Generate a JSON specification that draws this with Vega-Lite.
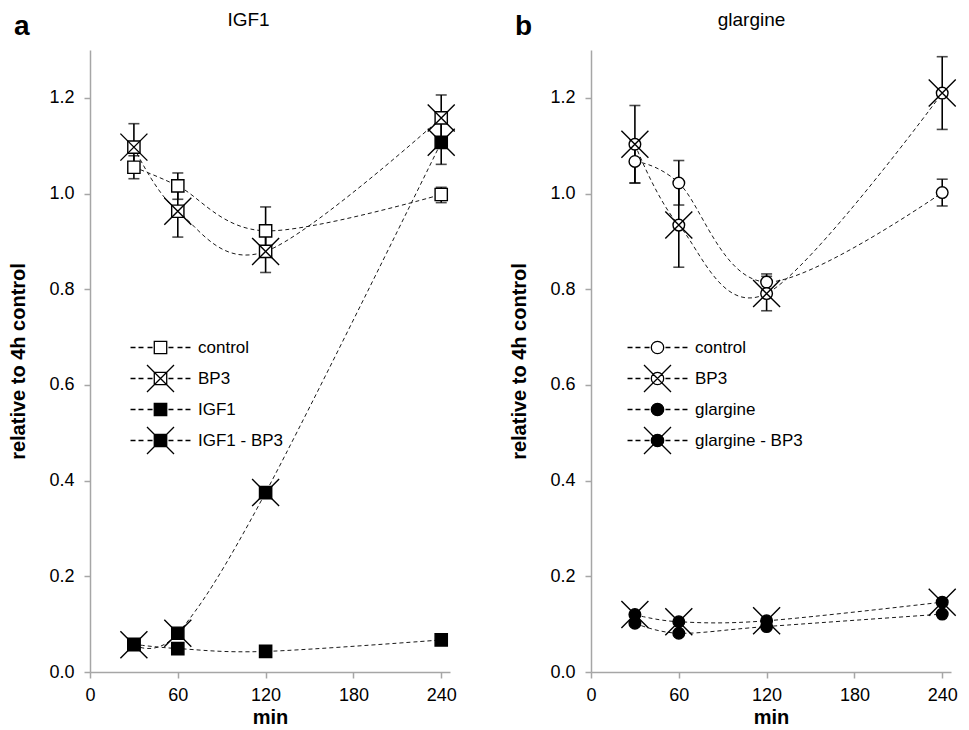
{
  "$schema": "https://vega.github.io/schema/vega-lite/v6.json",
  "padding": {"left": 8, "top": 10, "right": 0, "bottom": 0},
  "datasets": {
    "a": [
      {"series": "control", "t": 30, "v": 1.055, "lo": 1.031, "hi": 1.079},
      {"series": "control", "t": 60, "v": 1.016, "lo": 0.988, "hi": 1.043},
      {"series": "control", "t": 120, "v": 0.922, "lo": 0.872, "hi": 0.972},
      {"series": "control", "t": 240, "v": 0.998, "lo": 0.981, "hi": 1.013},
      {"series": "BP3", "t": 30, "v": 1.097, "lo": 1.048, "hi": 1.146},
      {"series": "BP3", "t": 60, "v": 0.963, "lo": 0.909, "hi": 1.017},
      {"series": "BP3", "t": 120, "v": 0.879, "lo": 0.835, "hi": 0.923},
      {"series": "BP3", "t": 240, "v": 1.158, "lo": 1.11, "hi": 1.206},
      {"series": "IGF1", "t": 30, "v": 0.058, "lo": null, "hi": null},
      {"series": "IGF1", "t": 60, "v": 0.049, "lo": null, "hi": null},
      {"series": "IGF1", "t": 120, "v": 0.043, "lo": null, "hi": null},
      {"series": "IGF1", "t": 240, "v": 0.067, "lo": null, "hi": null},
      {"series": "IGF1 - BP3", "t": 30, "v": 0.057, "lo": null, "hi": null},
      {"series": "IGF1 - BP3", "t": 60, "v": 0.081, "lo": null, "hi": null},
      {"series": "IGF1 - BP3", "t": 120, "v": 0.375, "lo": null, "hi": null},
      {"series": "IGF1 - BP3", "t": 240, "v": 1.107, "lo": 1.061, "hi": 1.153}
    ],
    "b": [
      {"series": "control", "t": 30, "v": 1.067, "lo": 1.022, "hi": 1.112},
      {"series": "control", "t": 60, "v": 1.022, "lo": 0.976, "hi": 1.069},
      {"series": "control", "t": 120, "v": 0.815, "lo": 0.798, "hi": 0.832},
      {"series": "control", "t": 240, "v": 1.002, "lo": 0.974, "hi": 1.03},
      {"series": "BP3", "t": 30, "v": 1.103, "lo": 1.022, "hi": 1.184},
      {"series": "BP3", "t": 60, "v": 0.934, "lo": 0.846, "hi": 1.022},
      {"series": "BP3", "t": 120, "v": 0.791, "lo": 0.755, "hi": 0.827},
      {"series": "BP3", "t": 240, "v": 1.21, "lo": 1.134, "hi": 1.286},
      {"series": "glargine", "t": 30, "v": 0.102, "lo": null, "hi": null},
      {"series": "glargine", "t": 60, "v": 0.081, "lo": null, "hi": null},
      {"series": "glargine", "t": 120, "v": 0.095, "lo": null, "hi": null},
      {"series": "glargine", "t": 240, "v": 0.121, "lo": null, "hi": null},
      {"series": "glargine - BP3", "t": 30, "v": 0.12, "lo": null, "hi": null},
      {"series": "glargine - BP3", "t": 60, "v": 0.105, "lo": null, "hi": null},
      {"series": "glargine - BP3", "t": 120, "v": 0.107, "lo": null, "hi": null},
      {"series": "glargine - BP3", "t": 240, "v": 0.146, "lo": null, "hi": null}
    ]
  },
  "spacing": 51,
  "hconcat": [
    {
      "width": 360,
      "height": 622,
      "data": {"name": "a"},
      "title": {"text": "a", "anchor": "start", "frame": "group", "dx": -76, "fontSize": 28, "fontWeight": "bold", "font": "Liberation Sans", "color": "#000", "baseline": "alphabetic", "offset": -53},
      "layer": [
        {
          "layer": [
            {
              "mark": {"type": "line", "interpolate": "cardinal", "strokeDash": [4, 3], "strokeWidth": 1, "color": "#1a1a1a"},
              "encoding": {
                "x": {"field": "t", "type": "quantitative", "scale": {"domain": [0, 246], "nice": false, "zero": false}, "axis": {"values": [0, 60, 120, 180, 240], "title": "min"}},
                "y": {"field": "v", "type": "quantitative", "scale": {"domain": [0, 1.3], "nice": false}, "axis": {"values": [0, 0.2, 0.4, 0.6, 0.8, 1, 1.2], "format": ".1f", "title": "relative to 4h control"}},
                "detail": {"field": "series"}
              }
            },
            {
              "transform": [{"filter": "isValid(datum.lo)"}],
              "mark": {"type": "errorbar", "ticks": {"size": 11, "thickness": 1.6, "color": "#000"}, "rule": {"strokeWidth": 1.6, "color": "#000"}},
              "encoding": {
                "x": {"field": "t", "type": "quantitative", "title": "min"},
                "y": {"field": "lo", "type": "quantitative", "title": "relative to 4h control"},
                "y2": {"field": "hi"}
              }
            },
            {
              "transform": [{"filter": {"field": "series", "oneOf": ["control", "BP3"]}}],
              "mark": {"type": "point", "shape": "square", "size": 150, "filled": true, "fill": "#ffffff", "stroke": "#000", "strokeWidth": 1.4, "opacity": 1},
              "encoding": {
                "x": {"field": "t", "type": "quantitative", "title": "min"},
                "y": {"field": "v", "type": "quantitative", "title": "relative to 4h control"}
              }
            },
            {
              "transform": [{"filter": {"field": "series", "oneOf": ["IGF1", "IGF1 - BP3"]}}],
              "mark": {"type": "point", "shape": "square", "size": 150, "filled": true, "fill": "#000000", "stroke": "#000", "strokeWidth": 1.4, "opacity": 1},
              "encoding": {
                "x": {"field": "t", "type": "quantitative", "title": "min"},
                "y": {"field": "v", "type": "quantitative", "title": "relative to 4h control"}
              }
            },
            {
              "transform": [{"filter": "false"}],
              "mark": {"type": "point", "filled": true, "strokeWidth": 1.3, "opacity": 1},
              "encoding": {
                "x": {"field": "t", "type": "quantitative", "title": "min"},
                "y": {"field": "v", "type": "quantitative", "title": "relative to 4h control"},
                "fill": {
                  "field": "series", "type": "nominal",
                  "scale": {"domain": ["control", "BP3", "IGF1", "IGF1 - BP3"], "range": ["#ffffff", "#ffffff", "#000000", "#000000"]},
                  "legend": {
                    "orient": "none", "legendX": 56, "legendY": 283, "title": null,
                    "symbolSize": 729, "symbolStrokeWidth": 1.3, "symbolOpacity": 1,
                    "labelFont": "Liberation Sans", "labelFontSize": 17, "labelColor": "#000", "labelOffset": 23,
                    "rowPadding": -6, "padding": 0
                  }
                },
                "stroke": {
                  "field": "series", "type": "nominal",
                  "scale": {"domain": ["control", "BP3", "IGF1", "IGF1 - BP3"], "range": ["#000000", "#000000", "#000000", "#000000"]},
                  "legend": {
                    "orient": "none", "legendX": 56, "legendY": 283, "title": null,
                    "symbolSize": 729, "symbolStrokeWidth": 1.3, "symbolOpacity": 1,
                    "labelFont": "Liberation Sans", "labelFontSize": 17, "labelColor": "#000", "labelOffset": 23,
                    "rowPadding": -6, "padding": 0
                  }
                },
                "shape": {
                  "field": "series", "type": "nominal",
                  "scale": {"domain": ["control", "BP3", "IGF1", "IGF1 - BP3"], "range": [
                    "M0,-1L0,-1M0,1L0,1M-2.22,0H-1.85M-1.63,0H-1.26M-0.96,0H-0.59M0.59,0H0.96M1.26,0H1.63M1.85,0H2.22M-0.46,-0.46H0.46V0.46H-0.46Z",
                    "M0,-1L0,-1M0,1L0,1M-2.22,0H-1.85M-1.63,0H-1.26M-0.96,0H-0.59M0.59,0H0.96M1.26,0H1.63M1.85,0H2.22M-0.46,-0.46H0.46V0.46H-0.46ZM-1,-1L1,1M-1,1L1,-1",
                    "M0,-1L0,-1M0,1L0,1M-2.22,0H-1.85M-1.63,0H-1.26M-0.96,0H-0.59M0.59,0H0.96M1.26,0H1.63M1.85,0H2.22M-0.46,-0.46H0.46V0.46H-0.46Z",
                    "M0,-1L0,-1M0,1L0,1M-2.22,0H-1.85M-1.63,0H-1.26M-0.96,0H-0.59M0.59,0H0.96M1.26,0H1.63M1.85,0H2.22M-0.46,-0.46H0.46V0.46H-0.46ZM-1,-1L1,1M-1,1L1,-1"
                  ]},
                  "legend": {
                    "orient": "none", "legendX": 56, "legendY": 283, "title": null,
                    "symbolSize": 729, "symbolStrokeWidth": 1.3, "symbolOpacity": 1,
                    "labelFont": "Liberation Sans", "labelFontSize": 17, "labelColor": "#000", "labelOffset": 23,
                    "rowPadding": -6, "padding": 0
                  }
                }
              }
            }
          ]
        },
        {
          "transform": [{"filter": "indexof(datum.series, 'BP3') >= 0"}],
          "mark": {"type": "point", "shape": "M-1,-1L1,1M-1,1L1,-1", "size": 729, "filled": false, "stroke": "#000", "strokeWidth": 1.4, "opacity": 1},
          "encoding": {
            "x": {"field": "t", "type": "quantitative", "axis": {"orient": "top", "domain": false, "ticks": false, "labels": false, "grid": false, "title": "IGF1", "titleFontSize": 19, "titleFontWeight": "normal", "titleX": 158, "titleY": -25, "titleAlign": "center", "titleBaseline": "alphabetic"}},
            "y": {"field": "v", "type": "quantitative", "title": "relative to 4h control"}
          }
        }
      ],
      "resolve": {"axis": {"x": "independent"}}
    },
    {
      "width": 360,
      "height": 622,
      "data": {"name": "b"},
      "title": {"text": "b", "anchor": "start", "frame": "group", "dx": -76, "fontSize": 28, "fontWeight": "bold", "font": "Liberation Sans", "color": "#000", "baseline": "alphabetic", "offset": -53},
      "layer": [
        {
          "layer": [
            {
              "mark": {"type": "line", "interpolate": "cardinal", "strokeDash": [4, 3], "strokeWidth": 1, "color": "#1a1a1a"},
              "encoding": {
                "x": {"field": "t", "type": "quantitative", "scale": {"domain": [0, 246], "nice": false, "zero": false}, "axis": {"values": [0, 60, 120, 180, 240], "title": "min"}},
                "y": {"field": "v", "type": "quantitative", "scale": {"domain": [0, 1.3], "nice": false}, "axis": {"values": [0, 0.2, 0.4, 0.6, 0.8, 1, 1.2], "format": ".1f", "title": "relative to 4h control"}},
                "detail": {"field": "series"}
              }
            },
            {
              "transform": [{"filter": "isValid(datum.lo)"}],
              "mark": {"type": "errorbar", "ticks": {"size": 11, "thickness": 1.6, "color": "#000"}, "rule": {"strokeWidth": 1.6, "color": "#000"}},
              "encoding": {
                "x": {"field": "t", "type": "quantitative", "title": "min"},
                "y": {"field": "lo", "type": "quantitative", "title": "relative to 4h control"},
                "y2": {"field": "hi"}
              }
            },
            {
              "transform": [{"filter": {"field": "series", "oneOf": ["control", "BP3"]}}],
              "mark": {"type": "point", "shape": "circle", "size": 135, "filled": true, "fill": "#ffffff", "stroke": "#000", "strokeWidth": 1.4, "opacity": 1},
              "encoding": {
                "x": {"field": "t", "type": "quantitative", "title": "min"},
                "y": {"field": "v", "type": "quantitative", "title": "relative to 4h control"}
              }
            },
            {
              "transform": [{"filter": {"field": "series", "oneOf": ["glargine", "glargine - BP3"]}}],
              "mark": {"type": "point", "shape": "circle", "size": 135, "filled": true, "fill": "#000000", "stroke": "#000", "strokeWidth": 1.4, "opacity": 1},
              "encoding": {
                "x": {"field": "t", "type": "quantitative", "title": "min"},
                "y": {"field": "v", "type": "quantitative", "title": "relative to 4h control"}
              }
            },
            {
              "transform": [{"filter": "false"}],
              "mark": {"type": "point", "filled": true, "strokeWidth": 1.3, "opacity": 1},
              "encoding": {
                "x": {"field": "t", "type": "quantitative", "title": "min"},
                "y": {"field": "v", "type": "quantitative", "title": "relative to 4h control"},
                "fill": {
                  "field": "series", "type": "nominal",
                  "scale": {"domain": ["control", "BP3", "glargine", "glargine - BP3"], "range": ["#ffffff", "#ffffff", "#000000", "#000000"]},
                  "legend": {
                    "orient": "none", "legendX": 52, "legendY": 283, "title": null,
                    "symbolSize": 729, "symbolStrokeWidth": 1.3, "symbolOpacity": 1,
                    "labelFont": "Liberation Sans", "labelFontSize": 17, "labelColor": "#000", "labelOffset": 23,
                    "rowPadding": -8, "padding": 0
                  }
                },
                "stroke": {
                  "field": "series", "type": "nominal",
                  "scale": {"domain": ["control", "BP3", "glargine", "glargine - BP3"], "range": ["#000000", "#000000", "#000000", "#000000"]},
                  "legend": {
                    "orient": "none", "legendX": 52, "legendY": 283, "title": null,
                    "symbolSize": 729, "symbolStrokeWidth": 1.3, "symbolOpacity": 1,
                    "labelFont": "Liberation Sans", "labelFontSize": 17, "labelColor": "#000", "labelOffset": 23,
                    "rowPadding": -8, "padding": 0
                  }
                },
                "shape": {
                  "field": "series", "type": "nominal",
                  "scale": {"domain": ["control", "BP3", "glargine", "glargine - BP3"], "range": [
                    "M0,-1L0,-1M0,1L0,1M-2.22,0H-1.85M-1.63,0H-1.26M-0.96,0H-0.59M0.59,0H0.96M1.26,0H1.63M1.85,0H2.22M0.46,0A0.46,0.46,0,1,1,-0.46,0A0.46,0.46,0,1,1,0.46,0Z",
                    "M0,-1L0,-1M0,1L0,1M-2.22,0H-1.85M-1.63,0H-1.26M-0.96,0H-0.59M0.59,0H0.96M1.26,0H1.63M1.85,0H2.22M0.46,0A0.46,0.46,0,1,1,-0.46,0A0.46,0.46,0,1,1,0.46,0ZM-1,-1L1,1M-1,1L1,-1",
                    "M0,-1L0,-1M0,1L0,1M-2.22,0H-1.85M-1.63,0H-1.26M-0.96,0H-0.59M0.59,0H0.96M1.26,0H1.63M1.85,0H2.22M0.46,0A0.46,0.46,0,1,1,-0.46,0A0.46,0.46,0,1,1,0.46,0Z",
                    "M0,-1L0,-1M0,1L0,1M-2.22,0H-1.85M-1.63,0H-1.26M-0.96,0H-0.59M0.59,0H0.96M1.26,0H1.63M1.85,0H2.22M0.46,0A0.46,0.46,0,1,1,-0.46,0A0.46,0.46,0,1,1,0.46,0ZM-1,-1L1,1M-1,1L1,-1"
                  ]},
                  "legend": {
                    "orient": "none", "legendX": 52, "legendY": 283, "title": null,
                    "symbolSize": 729, "symbolStrokeWidth": 1.3, "symbolOpacity": 1,
                    "labelFont": "Liberation Sans", "labelFontSize": 17, "labelColor": "#000", "labelOffset": 23,
                    "rowPadding": -8, "padding": 0
                  }
                }
              }
            }
          ]
        },
        {
          "transform": [{"filter": "indexof(datum.series, 'BP3') >= 0"}],
          "mark": {"type": "point", "shape": "M-1,-1L1,1M-1,1L1,-1", "size": 729, "filled": false, "stroke": "#000", "strokeWidth": 1.4, "opacity": 1},
          "encoding": {
            "x": {"field": "t", "type": "quantitative", "axis": {"orient": "top", "domain": false, "ticks": false, "labels": false, "grid": false, "title": "glargine", "titleFontSize": 19, "titleFontWeight": "normal", "titleX": 160, "titleY": -25, "titleAlign": "center", "titleBaseline": "alphabetic"}},
            "y": {"field": "v", "type": "quantitative", "title": "relative to 4h control"}
          }
        }
      ],
      "resolve": {"axis": {"x": "independent"}}
    }
  ],
  "resolve": {"scale": {"x": "independent", "y": "independent", "fill": "independent", "shape": "independent", "stroke": "independent"}, "legend": {"fill": "independent", "shape": "independent", "stroke": "independent"}},
  "config": {
    "font": "Liberation Sans",
    "view": {"stroke": null},
    "axis": {
      "domainColor": "#a6a6a6", "domainWidth": 1.5, "tickColor": "#a6a6a6", "tickWidth": 1.5, "tickSize": 6,
      "grid": false, "labelFlush": false,
      "labelFont": "Liberation Sans", "labelFontSize": 18, "labelColor": "#000",
      "titleFont": "Liberation Sans", "titleFontSize": 20, "titleFontWeight": "bold", "titleColor": "#000"
    },
    "axisY": {"labelPadding": 10, "titlePadding": 20},
    "axisX": {"labelPadding": 8, "titlePadding": 3}
  }
}
